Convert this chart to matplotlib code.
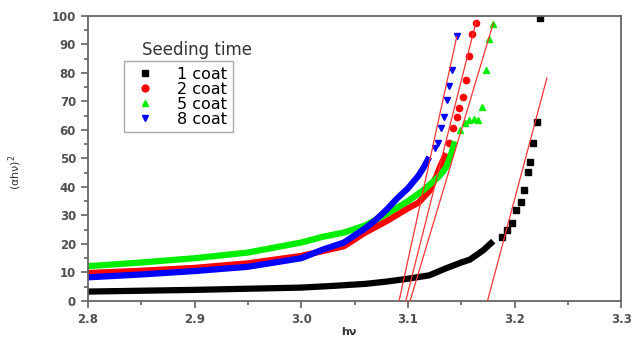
import numpy as np
import matplotlib
matplotlib.use("Agg")
import matplotlib.pyplot as plt
from matplotlib.ticker import MultipleLocator

# 1 coat (black squares): dense part, then sparse tail
e1_band = [2.80, 2.85, 2.90, 2.95, 3.00, 3.03, 3.06, 3.08, 3.10, 3.12, 3.136, 3.15, 3.158, 3.165, 3.171, 3.18]
a1_band = [3.3, 3.6, 3.9, 4.3, 4.7, 5.3, 6.0, 6.8, 7.8, 9.0, 11.5, 13.5, 14.5, 16.3, 17.9, 21.0]
e1_tail = [3.188, 3.193, 3.1975, 3.2015, 3.206, 3.2084, 3.2125, 3.2146, 3.2177, 3.221, 3.224]
a1_tail = [22.6, 24.9, 27.3, 31.9, 34.6, 38.9, 45.1, 48.9, 55.5, 62.9, 99.2]

# 2 coat (red circles)
e2_band = [2.80, 2.85, 2.90, 2.95, 3.00, 3.02, 3.04, 3.06, 3.08, 3.10, 3.11, 3.12, 3.127, 3.13, 3.136]
a2_band = [9.8, 10.6, 11.6, 13.2, 15.8, 17.5, 19.2, 24.0, 28.0, 32.5, 34.5, 38.5, 44.0, 47.0, 51.8]
e2_tail = [3.139, 3.1427, 3.146, 3.148, 3.1515, 3.1546, 3.157, 3.160, 3.1637]
a2_tail = [55.3, 60.6, 64.5, 67.6, 71.5, 77.5, 86.0, 93.7, 97.6]

# 5 coat (green triangles up)
e5_band = [2.80, 2.85, 2.90, 2.95, 3.00, 3.02, 3.04, 3.06, 3.08, 3.10, 3.115, 3.13, 3.136, 3.141, 3.144]
a5_band = [12.2, 13.5, 15.0, 17.0, 20.5, 22.5, 24.0, 26.5, 30.5, 35.0, 39.0, 44.0, 47.0, 52.0, 56.0]
e5_tail = [3.149, 3.1537, 3.157, 3.1615, 3.166, 3.169, 3.173, 3.1756, 3.1797]
a5_tail = [60.0, 62.3, 63.5, 63.8, 63.5, 68.2, 81.0, 91.8, 97.2]

# 8 coat (blue triangles down)
e8_band = [2.80, 2.85, 2.90, 2.95, 3.00, 3.02, 3.04, 3.06, 3.07, 3.08, 3.09, 3.10, 3.11, 3.115, 3.12]
a8_band = [8.3, 9.3, 10.5, 12.0, 15.0, 18.0, 20.5, 25.5, 28.5, 32.0, 36.0, 39.5, 44.0, 47.0, 50.5]
e8_tail = [3.1255, 3.1286, 3.1308, 3.134, 3.137, 3.139, 3.141, 3.146]
a8_tail = [53.6, 55.3, 60.6, 64.5, 70.5, 75.4, 81.0, 93.0]

# linear fits (tangent lines) end points
fit_x = [[3.0917, 3.1458], [3.098, 3.1637], [3.102, 3.180], [3.1746, 3.2303]]
fit_y = [[0, 92.7], [0, 97.6], [0, 97.4], [0, 78.2]]

labels = ["1 coat", "2 coat", "5 coat", "8 coat"]
colors = ["black", "red", "#00ee00", "blue"]
markers = ["s", "o", "^", "v"]

bands = [(e1_band, a1_band), (e2_band, a2_band), (e5_band, a5_band), (e8_band, a8_band)]
tails = [(e1_tail, a1_tail), (e2_tail, a2_tail), (e5_tail, a5_tail), (e8_tail, a8_tail)]

plt.rcParams['font.family'] = ['DejaVu Sans']

fig = plt.figure(figsize=(6.32, 3.38), dpi=100)
ax = fig.add_axes([0.139, 0.1095, 0.844, 0.8435])

for i in range(4):
    bx, by = bands[i]
    tx, ty = tails[i]
    ax.plot(bx, by, color=colors[i], lw=4.5, solid_capstyle='butt', zorder=2)
    ax.plot(tx, ty, linestyle='none', marker=markers[i], ms=4.5, color=colors[i],
            label=labels[i], zorder=2)

for i in range(4):
    ax.plot(fit_x[i], fit_y[i], color='#ff3333', lw=0.9, zorder=3)

ax.set_xlim(2.8, 3.3)
ax.set_ylim(0, 100)
ax.xaxis.set_major_locator(MultipleLocator(0.1))
ax.xaxis.set_minor_locator(MultipleLocator(0.05))
ax.yaxis.set_major_locator(MultipleLocator(10))
ax.yaxis.set_minor_locator(MultipleLocator(5))
ax.xaxis.set_major_formatter(plt.FormatStrFormatter('%.1f'))

for s in ax.spines.values():
    s.set_color('#666666')
    s.set_linewidth(1.3)
ax.tick_params(which='both', direction='out', colors='#555555', width=1.1,
               labelsize=8.5, top=False, right=False)
ax.tick_params(which='major', length=5)
ax.tick_params(which='minor', length=3)
for t in ax.get_xticklabels() + ax.get_yticklabels():
    t.set_fontweight('bold')
    t.set_color('#505050')

ax.set_xlabel('hν', fontsize=8, fontweight='bold', color='#333333')
ax.xaxis.set_label_coords(0.49, -0.09)
ax.set_ylabel('(αhν)$^2$', fontsize=8, color='#333333')
ax.yaxis.set_label_coords(-0.12, 0.45)

leg = ax.legend(loc='upper left', bbox_to_anchor=(0.0675, 0.842), borderaxespad=0,
                fontsize=11.5, labelspacing=0.0, handletextpad=1.0, markerscale=1.1,
                handlelength=2.0, borderpad=0.35, fancybox=False, framealpha=1)
leg.get_frame().set_edgecolor('#aaaaaa')
leg.get_frame().set_linewidth(1.0)
ax.text(0.2045, 0.881, 'Seeding time', transform=ax.transAxes, ha='center', va='center',
        fontsize=12, color='#333333')

fig.savefig('out.png', dpi=100)
